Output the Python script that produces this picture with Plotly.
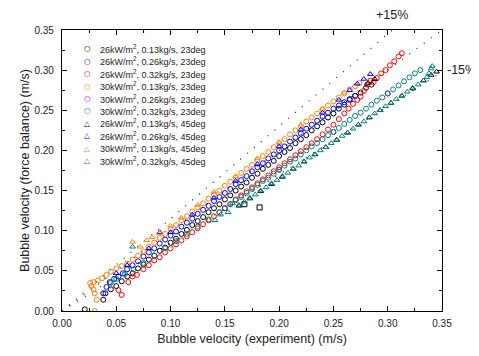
import plotly.graph_objects as go

# ---------------- data ----------------
names = [
    "26kW/m<sup>2</sup>, 0.13kg/s, 23deg",
    "26kW/m<sup>2</sup>, 0.26kg/s, 23deg",
    "26kW/m<sup>2</sup>, 0.32kg/s, 23deg",
    "30kW/m<sup>2</sup>, 0.13kg/s, 23deg",
    "30kW/m<sup>2</sup>, 0.26kg/s, 23deg",
    "30kW/m<sup>2</sup>, 0.32kg/s, 23deg",
    "26kW/m<sup>2</sup>, 0.13kg/s, 45deg",
    "26kW/m<sup>2</sup>, 0.26kg/s, 45deg",
    "30kW/m<sup>2</sup>, 0.13kg/s, 45deg",
    "30kW/m<sup>2</sup>, 0.32kg/s, 45deg",
]

blk_c_x = [0.021, 0.038, 0.040, 0.045, 0.050, 0.055, 0.060, 0.065, 0.070, 0.075, 0.080, 0.085, 0.090,
           0.095, 0.100, 0.105, 0.110, 0.115, 0.120, 0.125, 0.130, 0.135, 0.140, 0.145, 0.150, 0.155,
           0.160, 0.165, 0.170, 0.175, 0.180, 0.185, 0.190, 0.195, 0.200, 0.205, 0.210, 0.215, 0.220,
           0.225, 0.230, 0.235, 0.240, 0.245, 0.250, 0.255, 0.260, 0.265, 0.270, 0.275, 0.280, 0.285]
blk_c_y = [0.002, 0.014, 0.022, 0.027, 0.031, 0.037, 0.043, 0.047, 0.053, 0.058, 0.064, 0.069, 0.075,
           0.079, 0.085, 0.090, 0.096, 0.101, 0.107, 0.112, 0.117, 0.123, 0.128, 0.133, 0.139, 0.144,
           0.150, 0.155, 0.160, 0.166, 0.171, 0.177, 0.182, 0.187, 0.193, 0.198, 0.203, 0.209, 0.214,
           0.219, 0.225, 0.230, 0.235, 0.241, 0.246, 0.252, 0.257, 0.263, 0.268, 0.272, 0.278, 0.282]

blu_c_x = [0.038, 0.041, 0.044, 0.048, 0.052, 0.056, 0.060, 0.065, 0.070, 0.075, 0.080, 0.085, 0.090,
           0.095, 0.100, 0.105, 0.110, 0.115, 0.120, 0.125, 0.130, 0.135, 0.140, 0.145, 0.150, 0.155,
           0.160, 0.165, 0.170, 0.175, 0.180, 0.185, 0.190, 0.195, 0.200, 0.205, 0.210, 0.215, 0.220,
           0.225, 0.230, 0.235, 0.240, 0.245, 0.250, 0.255, 0.260, 0.265, 0.270]
blu_c_y = [0.022, 0.030, 0.036, 0.040, 0.043, 0.047, 0.052, 0.057, 0.062, 0.068, 0.073, 0.078, 0.084,
           0.089, 0.094, 0.099, 0.105, 0.110, 0.115, 0.121, 0.126, 0.131, 0.137, 0.142, 0.147, 0.152,
           0.158, 0.163, 0.168, 0.174, 0.179, 0.184, 0.190, 0.195, 0.200, 0.205, 0.211, 0.216, 0.221,
           0.227, 0.232, 0.237, 0.242, 0.247, 0.252, 0.256, 0.260, 0.264, 0.268]

red_c_x = [0.052, 0.055, 0.061, 0.065, 0.069, 0.075, 0.080, 0.085, 0.090, 0.095, 0.100, 0.105, 0.110,
           0.115, 0.120, 0.125, 0.130, 0.135, 0.140, 0.145, 0.150, 0.155, 0.160, 0.165, 0.170, 0.175,
           0.180, 0.185, 0.190, 0.195, 0.200, 0.205, 0.210, 0.215, 0.220, 0.225, 0.230, 0.235, 0.240,
           0.245, 0.250, 0.255, 0.260, 0.264, 0.268, 0.272, 0.275, 0.278, 0.281, 0.284, 0.287, 0.290,
           0.294, 0.298, 0.302, 0.306, 0.310, 0.313]
red_c_y = [0.026, 0.020, 0.036, 0.043, 0.045, 0.052, 0.057, 0.063, 0.067, 0.073, 0.078, 0.083, 0.088,
           0.093, 0.098, 0.103, 0.108, 0.113, 0.118, 0.123, 0.128, 0.133, 0.139, 0.144, 0.149, 0.154,
           0.159, 0.164, 0.169, 0.174, 0.179, 0.184, 0.189, 0.194, 0.199, 0.204, 0.209, 0.214, 0.220,
           0.226, 0.232, 0.239, 0.246, 0.252, 0.258, 0.263, 0.267, 0.274, 0.282, 0.287, 0.285, 0.290,
           0.296, 0.300, 0.306, 0.311, 0.317, 0.321]

org_c_x = [0.030, 0.032, 0.030, 0.029, 0.027, 0.026, 0.029, 0.033, 0.037, 0.041, 0.045, 0.050, 0.055,
           0.060, 0.065, 0.070, 0.075, 0.080, 0.085, 0.090, 0.095, 0.100, 0.105, 0.110, 0.115, 0.120,
           0.125, 0.130, 0.135, 0.140, 0.145, 0.150, 0.155, 0.160, 0.165, 0.170, 0.175, 0.180, 0.185,
           0.190, 0.195, 0.200, 0.205, 0.210, 0.215, 0.220, 0.225, 0.230, 0.235, 0.240, 0.245, 0.250,
           0.255, 0.260, 0.265, 0.270, 0.274]
org_c_y = [0.000, 0.014, 0.022, 0.027, 0.031, 0.035, 0.036, 0.038, 0.041, 0.045, 0.049, 0.053, 0.056,
           0.059, 0.064, 0.069, 0.074, 0.080, 0.085, 0.091, 0.096, 0.102, 0.107, 0.113, 0.118, 0.124,
           0.129, 0.134, 0.140, 0.145, 0.150, 0.156, 0.161, 0.166, 0.172, 0.177, 0.182, 0.188, 0.193,
           0.198, 0.204, 0.209, 0.214, 0.220, 0.225, 0.230, 0.236, 0.241, 0.246, 0.251, 0.256, 0.261,
           0.266, 0.271, 0.276, 0.280, 0.284]

pur_c_x = [0.150, 0.200, 0.250, 0.300]
pur_c_y = [0.128, 0.176, 0.223, 0.271]

tea_c_x = [0.045, 0.050, 0.058, 0.066, 0.075, 0.085, 0.095, 0.105, 0.115, 0.125, 0.135, 0.145, 0.150,
           0.155, 0.160, 0.165, 0.170, 0.175, 0.180, 0.185, 0.190, 0.195, 0.200, 0.205, 0.210, 0.215,
           0.220, 0.225, 0.230, 0.235, 0.240, 0.245, 0.250, 0.255, 0.260, 0.265, 0.270, 0.275, 0.280,
           0.285, 0.290, 0.295, 0.300, 0.305, 0.310, 0.315, 0.320, 0.325, 0.330]
tea_c_y = [0.035, 0.040, 0.046, 0.052, 0.060, 0.069, 0.078, 0.087, 0.096, 0.105, 0.114, 0.123, 0.128,
           0.133, 0.138, 0.142, 0.147, 0.152, 0.157, 0.162, 0.166, 0.171, 0.176, 0.181, 0.186, 0.190,
           0.195, 0.200, 0.205, 0.209, 0.214, 0.219, 0.223, 0.228, 0.233, 0.238, 0.243, 0.247, 0.252,
           0.257, 0.262, 0.266, 0.271, 0.276, 0.281, 0.286, 0.291, 0.296, 0.300]

blk_t_x = [0.163, 0.173, 0.183, 0.193, 0.203, 0.213, 0.223, 0.233, 0.243, 0.253, 0.263, 0.273, 0.283,
           0.293, 0.303, 0.313, 0.323, 0.333, 0.340, 0.345, 0.282, 0.288]
blk_t_y = [0.131, 0.140, 0.149, 0.158, 0.167, 0.177, 0.186, 0.195, 0.204, 0.213, 0.222, 0.232, 0.241,
           0.250, 0.259, 0.268, 0.277, 0.287, 0.294, 0.298, 0.284, 0.289]

blu_t_x = [0.050, 0.060, 0.080, 0.090, 0.100, 0.120, 0.140, 0.160, 0.180, 0.200, 0.220, 0.240, 0.255,
           0.265, 0.272, 0.278, 0.284]
blu_t_y = [0.047, 0.057, 0.078, 0.098, 0.098, 0.120, 0.141, 0.162, 0.183, 0.205, 0.226, 0.247, 0.263,
           0.275, 0.283, 0.289, 0.295]

org_t_x = [0.065, 0.072, 0.078, 0.083, 0.090, 0.100, 0.110, 0.125, 0.140, 0.160, 0.180, 0.200, 0.220,
           0.240, 0.260]
org_t_y = [0.086, 0.080, 0.088, 0.092, 0.097, 0.106, 0.116, 0.132, 0.148, 0.168, 0.190, 0.210, 0.232,
           0.252, 0.272]

tea_t_x = [0.065, 0.141, 0.146, 0.153, 0.157, 0.163, 0.168, 0.173, 0.178, 0.183, 0.188, 0.193, 0.198,
           0.203, 0.208, 0.213, 0.218, 0.223, 0.228, 0.233, 0.238, 0.243, 0.248, 0.253, 0.258, 0.263,
           0.268, 0.273, 0.278, 0.283, 0.288, 0.293, 0.298, 0.303, 0.308, 0.313, 0.318, 0.323, 0.328,
           0.333, 0.336, 0.338, 0.340, 0.341]
tea_t_y = [0.080, 0.113, 0.120, 0.123, 0.134, 0.132, 0.136, 0.141, 0.145, 0.150, 0.154, 0.159, 0.163,
           0.168, 0.172, 0.177, 0.181, 0.186, 0.191, 0.195, 0.200, 0.204, 0.209, 0.213, 0.218, 0.222,
           0.227, 0.232, 0.236, 0.241, 0.246, 0.250, 0.255, 0.259, 0.264, 0.268, 0.273, 0.278, 0.282,
           0.287, 0.291, 0.296, 0.302, 0.305]

sq_x = [0.168, 0.182]
sq_y = [0.133, 0.129]

guide_x = [0.0, 0.35]
guide_factors = [1.15, 1.0, 0.85]

series = [
    (blk_c_x, blk_c_y, "#000000", "circle-open"),
    (blu_c_x, blu_c_y, "#0000FF", "circle-open"),
    (red_c_x, red_c_y, "#FF0000", "circle-open"),
    (org_c_x, org_c_y, "#FF8000", "circle-open"),
    (pur_c_x, pur_c_y, "#8000FF", "circle-open"),
    (tea_c_x, tea_c_y, "#008080", "circle-open"),
    (blk_t_x, blk_t_y, "#000000", "triangle-up-open"),
    (blu_t_x, blu_t_y, "#0000FF", "triangle-up-open"),
    (org_t_x, org_t_y, "#FF8000", "triangle-up-open"),
    (tea_t_x, tea_t_y, "#008080", "triangle-up-open"),
]
legend_glyph = {"circle-open": "○", "triangle-up-open": "△"}

FONT = "Arial, Liberation Sans, sans-serif"
fig = go.Figure()

for f in guide_factors:
    fig.add_trace(go.Scatter(
        x=guide_x, y=[f * v for v in guide_x], mode="lines", showlegend=False,
        line=dict(color="#333333", width=1.3, dash="1px,8px"), hoverinfo="skip"))

fig.add_trace(go.Scatter(x=sq_x, y=sq_y, mode="markers", showlegend=False,
                         marker=dict(symbol="square-open", size=5, color="#000000",
                                     line=dict(width=1))))

for name, (sx, sy, col, sym) in zip(names, series):
    fig.add_trace(go.Scatter(
        x=sx, y=sy, mode="markers", name=name, showlegend=False,
        marker=dict(symbol=sym, size=5, color=col, line=dict(width=1, color=col))))

# compact legend (Plotly's own legend rows are too tall for this chart)
annotations = []
leg_top, leg_step = 0.933, 0.0442
for i, (name, (_, _, col, sym)) in enumerate(zip(names, series)):
    yy = leg_top - i * leg_step
    annotations.append(dict(
        text="<b>" + legend_glyph[sym] + "</b>", x=0.066, y=yy, xref="paper", yref="paper",
        xanchor="center", yanchor="middle", showarrow=False,
        font=dict(family="DejaVu Sans", size=7.5, color=col)))
    annotations.append(dict(
        text=name, x=0.094, y=yy, xref="paper", yref="paper",
        xanchor="left", yanchor="middle", showarrow=False,
        font=dict(family=FONT, size=9, color="#222222")))

annotations += [
    dict(text="+15%", x=0.868, y=1.053, xref="paper", yref="paper",
         xanchor="center", yanchor="middle",
         showarrow=False, font=dict(family=FONT, size=12.5, color="#222222")),
    dict(text="-15%", x=1.05, y=0.858, xref="paper", yref="paper",
         xanchor="center", yanchor="middle",
         showarrow=False, font=dict(family=FONT, size=12.5, color="#222222")),
]

axis_common = dict(
    range=[0, 0.35], dtick=0.05, tick0=0, tickformat=".2f",
    ticks="inside", ticklen=5, tickwidth=1, tickcolor="black",
    showline=True, linecolor="black", linewidth=1.3, mirror="allticks",
    showgrid=False, zeroline=False,
    tickfont=dict(family=FONT, size=10, color="#222222"),
    minor=dict(dtick=0.025, ticks="inside", ticklen=3, tickwidth=1, tickcolor="black"),
)

# page body has an 8px margin, so the figure is 8px smaller and margins shifted
fig.update_layout(
    width=471, height=348,
    margin=dict(l=54, r=37, t=22, b=45, autoexpand=False),
    paper_bgcolor="white", plot_bgcolor="white",
    font=dict(family=FONT, color="#222222"),
    xaxis=dict(**axis_common, ticklabelstandoff=3,
               title=dict(text="Bubble velocity (experiment) (m/s)",
                          font=dict(family=FONT, size=12.5, color="#222222"), standoff=6)),
    yaxis=dict(**axis_common, ticklabelstandoff=5,
               title=dict(text="Bubble velocity (force balance) (m/s)",
                          font=dict(family=FONT, size=12.5, color="#222222"), standoff=2)),
    showlegend=False,
    annotations=annotations,
)

fig.write_html("out.html")
